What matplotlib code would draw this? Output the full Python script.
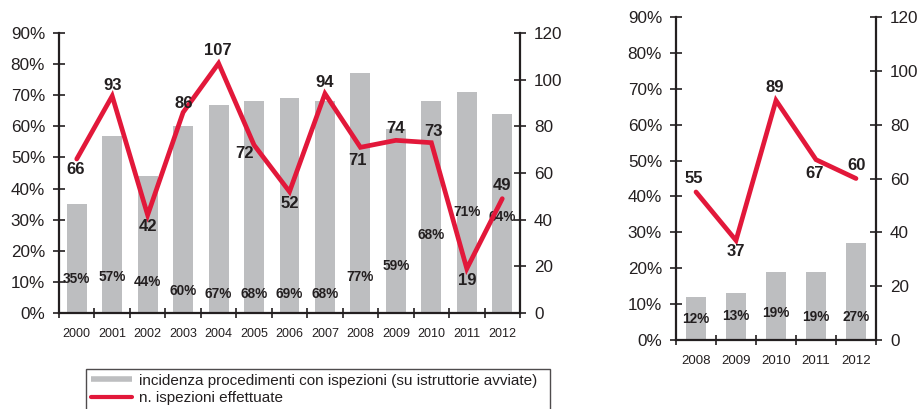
import matplotlib
matplotlib.use("Agg")
import matplotlib.pyplot as plt
from matplotlib.lines import Line2D
from matplotlib.ticker import FuncFormatter, FixedLocator

plt.rcParams['font.family'] = ['Liberation Sans', 'DejaVu Sans']

# ---------------- data ----------------
years_a = ['2000', '2001', '2002', '2003', '2004', '2005', '2006',
           '2007', '2008', '2009', '2010', '2011', '2012']
incidence_a = [35, 57, 44, 60, 67, 68, 69, 68, 77, 59, 68, 71, 64]      # %
inspections_a = [66, 93, 42, 86, 107, 72, 52, 94, 71, 74, 73, 19, 49]

years_b = ['2008', '2009', '2010', '2011', '2012']
incidence_b = [12, 13, 19, 19, 27]                                      # %
inspections_b = [55, 37, 89, 67, 60]

legend_labels = ['incidenza procedimenti con ispezioni (su istruttorie avviate)',
                 'n. ispezioni effettuate']

# ---------------- layout (label placement) ----------------
pct_label_y_a = [10.9, 11.6, 10.0, 7.2, 6.2, 6.2, 6.2, 6.2, 11.7, 15.1, 25.1, 32.6, 31.0]
val_offset_a = [(-1, -11), (0, 11), (0, -11.5), (1, 9), (-1, 13), (-10, -8), (0, -12),
                (0, 11), (-3, -13), (0, 12), (2, 11), (0, -12), (0, 13)]
pct_label_y_b = [5.9, 6.7, 7.5, 6.3, 6.5]
val_offset_b = [(-2, 13), (0, -11), (-1, 13), (-1, -14), (1, 13)]

GRAY = '#BDBEC0'
RED = '#E2183A'
TXT = '#231F20'
NARROW = ['Liberation Sans Narrow', 'Liberation Sans', 'DejaVu Sans']

fig = plt.figure(figsize=(9.2, 4.09), dpi=100)


def panel(rect, years, incidence, inspections, pct_y, offsets, bar_w, year_fs):
    ax = fig.add_axes(rect)
    axr = ax.twinx()
    n = len(years)
    x = list(range(n))
    ax.bar(x, incidence, width=bar_w, color=GRAY, zorder=2)
    ax.set_xlim(-0.5, n - 0.5)
    ax.set_ylim(0, 90)
    ax.set_yticks(range(0, 91, 10))
    ax.yaxis.set_major_formatter(FuncFormatter(lambda v, p: f'{int(round(v))}%'))
    axr.set_ylim(0, 120)
    axr.set_yticks(range(0, 121, 20))

    ax.set_xticks(x)
    ax.set_xticklabels(years)
    ax.xaxis.set_minor_locator(FixedLocator([i - 0.5 for i in range(n + 1)]))
    ax.tick_params(axis='x', which='major', length=0, labelsize=year_fs, colors=TXT, pad=11)
    ax.tick_params(axis='x', which='minor', direction='inout', length=7, width=1.2, color=TXT)
    ax.tick_params(axis='y', direction='inout', length=8, width=1.2, color=TXT,
                   labelsize=12.3, labelcolor=TXT, pad=6)
    axr.tick_params(axis='y', direction='inout', length=8, width=1.2, color=TXT,
                    labelsize=12.3, labelcolor=TXT, pad=6)

    for a in (ax, axr):
        a.spines['top'].set_visible(False)
        for s in ('left', 'right', 'bottom'):
            a.spines[s].set_linewidth(1.6)
            a.spines[s].set_color(TXT)
    ax.spines['right'].set_visible(False)
    axr.spines['left'].set_visible(False)
    axr.spines['bottom'].set_visible(False)

    for i, v in enumerate(incidence):
        ax.text(i, pct_y[i], f'{v}%', ha='center', va='center', fontsize=9.8,
                fontweight='bold', color=TXT, family=NARROW, zorder=3)

    axr.plot(x, inspections, color=RED, lw=3.4, solid_joinstyle='miter',
             solid_capstyle='round', zorder=3)
    for i, v in enumerate(inspections):
        dx, dy = offsets[i]
        axr.annotate(str(v), xy=(i, v), xytext=(dx, dy), textcoords='offset pixels',
                     ha='center', va='center', fontsize=12, fontweight='bold',
                     color=TXT, zorder=4)
    return ax, axr


panel([59 / 920, 1 - 313 / 409, 461 / 920, 280 / 409],
      years_a, incidence_a, inspections_a, pct_label_y_a, val_offset_a, 0.56, 9)
panel([676 / 920, 1 - 340 / 409, 200 / 920, 323 / 409],
      years_b, incidence_b, inspections_b, pct_label_y_b, val_offset_b, 0.5, 9.5)

handles = [Line2D([], [], color=GRAY, lw=4, solid_capstyle='butt'),
           Line2D([], [], color=RED, lw=3, solid_capstyle='round')]
top = 1 - 369 / 409
leg = fig.legend(handles, legend_labels, loc='upper left',
                 bbox_to_anchor=(86 / 920, top - 0.3, 464 / 920, 0.3), mode='expand',
                 fontsize=11, frameon=True, fancybox=False, borderaxespad=0,
                 borderpad=0.3, handlelength=2.7, handletextpad=0.5,
                 labelspacing=0.22)
leg.get_frame().set_edgecolor(TXT)
leg.get_frame().set_linewidth(1.0)
for t in leg.get_texts():
    t.set_color(TXT)

fig.savefig('out.png', dpi=100)
